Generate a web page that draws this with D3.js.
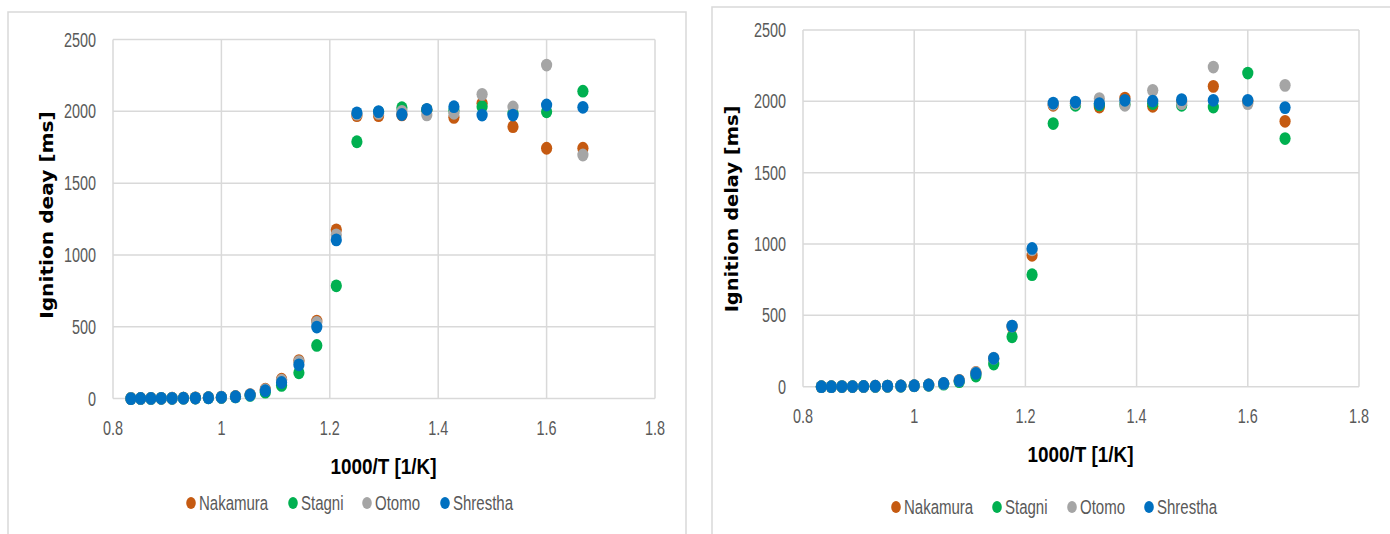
<!DOCTYPE html>
<html>
<head>
<meta charset="utf-8">
<script src="https://cdn.jsdelivr.net/npm/d3@7"></script>
<style>
  body { margin: 0; background: #fff; }
  svg { display: block; }
  .tick-label { font-family: "Liberation Sans", Arial, sans-serif; font-size: 19.5px; fill: #595959; }
  .legend-label { font-family: "Liberation Sans", Arial, sans-serif; font-size: 19.5px; fill: #595959; }
  .x-title { font-family: "Liberation Sans", Arial, sans-serif; font-size: 22px; font-weight: bold; fill: #000; }
  .y-title { font-family: "DejaVu Sans", sans-serif; font-size: 18px; font-weight: bold; fill: #000; }
</style>
</head>
<body>
<div class="canvas"></div>
<script>
// 1000/T [1/K]  (T = 1200 K down to 600 K)
const xValues = [0.833, 0.851, 0.870, 0.889, 0.909, 0.930, 0.952, 0.976, 1.000, 1.026, 1.053, 1.081, 1.111,
                 1.143, 1.176, 1.212, 1.250, 1.290, 1.333, 1.379, 1.429, 1.481, 1.538, 1.600, 1.667];

const seriesNames = ['Nakamura', 'Stagni', 'Otomo', 'Shrestha'];
const seriesColours = ['#C55A11', '#00B050', '#A5A5A5', '#0070C0'];

const xTicks = [0.8, 1, 1.2, 1.4, 1.6, 1.8];
const yTicks = [0, 500, 1000, 1500, 2000, 2500];

// left chart
const leftNakamura = [1, 1, 2, 2, 3, 4, 5, 7, 10, 15, 28, 65, 135, 265, 540, 1175, 1970, 1970, 1975, 2010, 1958, 2056, 1893, 1743, 1743];
const leftStagni   = [1, 1, 1, 2, 2, 3, 4, 6, 8, 12, 22, 45, 92, 180, 370, 785, 1788, 1995, 2025, 2010, 2005, 2032, 1990, 1997, 2140];
const leftOtomo    = [1, 1, 2, 2, 3, 4, 5, 7, 10, 14, 27, 62, 128, 258, 530, 1140, 1980, 1985, 2000, 1975, 1986, 2118, 2030, 2322, 1696];
const leftShrestha = [0, 1, 1, 2, 2, 3, 4, 6, 9, 13, 25, 55, 112, 235, 498, 1105, 1989, 1998, 1978, 2014, 2032, 1974, 1974, 2044, 2028];

// right chart
const rightNakamura = [0, 0, 1, 1, 2, 3, 4, 5, 7, 12, 22, 45, 100, 195, 420, 921, 1972, 1985, 1960, 2023, 1965, 1995, 2105, 2000, 1860];
const rightStagni   = [0, 0, 1, 1, 2, 2, 3, 4, 6, 10, 18, 35, 75, 159, 350, 785, 1844, 1972, 1975, 1980, 1985, 1972, 1960, 2198, 1739];
const rightOtomo    = [0, 0, 1, 1, 2, 3, 4, 5, 7, 12, 22, 43, 98, 200, 425, 960, 1980, 1985, 2019, 1972, 2077, 1984, 2240, 1984, 2112];
const rightShrestha = [0, 0, 1, 1, 2, 3, 4, 5, 7, 12, 23, 42, 93, 199, 425, 969, 1988, 1995, 1984, 2007, 2002, 2012, 2007, 2007, 1956];

// the original labels are in a narrow face that isn't installed, so squeeze horizontally
const tickSqueeze = 0.74;
const legendSqueeze = 0.77;

const svg = d3.select('.canvas').append('svg')
  .attr('width', 1390)
  .attr('height', 534);

const drawChart = (cfg, series) => {
  // panel border
  svg.append('rect')
    .attr('x', cfg.panel.x).attr('y', cfg.panel.y)
    .attr('width', cfg.panel.w).attr('height', cfg.panel.h)
    .attr('fill', 'none')
    .attr('stroke', '#D9D9D9')
    .attr('stroke-width', 1.5);

  const x = d3.scaleLinear().domain([0.8, 1.8]).range([cfg.left, cfg.right]);
  const y = d3.scaleLinear().domain([0, 2500]).range([cfg.bottom, cfg.top]);

  const g = svg.append('g');

  // gridlines
  g.append('g').selectAll('line')
    .data(yTicks)
    .enter().append('line')
    .attr('x1', cfg.left).attr('x2', cfg.right)
    .attr('y1', d => y(d)).attr('y2', d => y(d))
    .attr('stroke', '#D9D9D9').attr('stroke-width', 1.5);

  g.append('g').selectAll('line')
    .data(xTicks)
    .enter().append('line')
    .attr('x1', d => x(d)).attr('x2', d => x(d))
    .attr('y1', cfg.top).attr('y2', cfg.bottom)
    .attr('stroke', '#D9D9D9').attr('stroke-width', 1.5);

  // tick labels
  g.append('g').selectAll('text')
    .data(yTicks)
    .enter().append('text')
    .attr('class', 'tick-label')
    .attr('transform', d => `translate(${cfg.left - 17}, ${y(d) + 7}) scale(${tickSqueeze}, 1)`)
    .attr('text-anchor', 'end')
    .text(d => d);

  g.append('g').selectAll('text')
    .data(xTicks)
    .enter().append('text')
    .attr('class', 'tick-label')
    .attr('transform', d => `translate(${x(d)}, ${cfg.bottom + 36.5}) scale(${tickSqueeze}, 1)`)
    .attr('text-anchor', 'middle')
    .text(d => d);

  // axis titles
  g.append('text')
    .attr('class', 'x-title')
    .attr('transform', `translate(${(cfg.left + cfg.right) / 2 - 0.5}, ${cfg.bottom + 75.7}) scale(0.86, 1)`)
    .attr('text-anchor', 'middle')
    .text('1000/T [1/K]');

  g.append('text')
    .attr('class', 'y-title')
    .attr('transform', `translate(${cfg.yTitleX}, ${cfg.yTitleY}) rotate(-90) scale(${cfg.yTitleStretch}, 1)`)
    .attr('text-anchor', 'middle')
    .text(cfg.yTitle);

  // points, drawn series by series so Shrestha ends up on top
  series.forEach((values, s) => {
    g.append('g').selectAll('ellipse')
      .data(values.map((v, i) => ({ x: xValues[i], y: v })))
      .enter().append('ellipse')
      .attr('cx', d => x(d.x))
      .attr('cy', d => y(d.y))
      .attr('rx', 5.6)
      .attr('ry', 6.4)
      .attr('fill', seriesColours[s]);
  });

  // legend
  const legend = g.append('g')
    .attr('transform', `translate(0, ${cfg.legendY})`);

  const items = legend.selectAll('g')
    .data(seriesNames)
    .enter().append('g')
    .attr('transform', (d, i) => `translate(${cfg.legendX[i]}, 0)`);

  items.append('ellipse')
    .attr('cx', 0).attr('cy', 0)
    .attr('rx', 4.8).attr('ry', 6)
    .attr('fill', (d, i) => seriesColours[i]);

  items.append('text')
    .attr('class', 'legend-label')
    .attr('transform', `translate(8, 7) scale(${legendSqueeze}, 1)`)
    .text(d => d);
};

drawChart({
  panel: { x: 8, y: 12, w: 678, h: 560 },
  left: 113, right: 655, top: 39.5, bottom: 398.6,
  yTitle: 'Ignition deay [ms]', yTitleX: 52.5, yTitleY: 215, yTitleStretch: 1.12,
  legendY: 503, legendX: [191, 293, 367, 445]
}, [leftNakamura, leftStagni, leftOtomo, leftShrestha]);

drawChart({
  panel: { x: 712, y: 7, w: 720, h: 560 },
  left: 803, right: 1359, top: 30, bottom: 386.7,
  yTitle: 'Ignition delay [ms]', yTitleX: 738, yTitleY: 209, yTitleStretch: 1.08,
  legendY: 507, legendX: [896, 997, 1072, 1149]
}, [rightNakamura, rightStagni, rightOtomo, rightShrestha]);
</script>
</body>
</html>
